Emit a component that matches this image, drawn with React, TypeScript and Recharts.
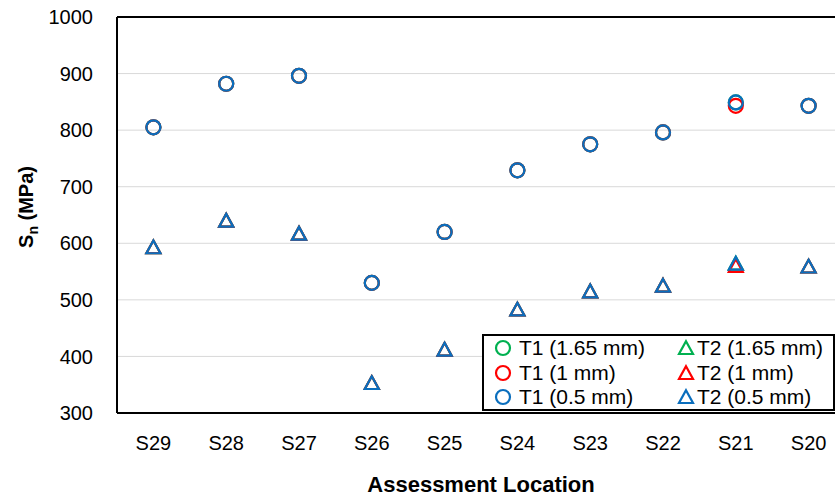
import React from 'react';
import {
  ComposedChart,
  Line,
  XAxis,
  YAxis,
  CartesianGrid,
  ReferenceLine,
  Legend,
  Label,
} from 'recharts';

// ---- data ----
const locations = ['S29', 'S28', 'S27', 'S26', 'S25', 'S24', 'S23', 'S22', 'S21', 'S20'];
const t1_165 = [805, 882, 896, 530, 620, 729, 775, 796, 849, 843];
const t2_165 = [593, 640, 617, 353, 412, 483, 515, 525, 564, 559];
const t1_1 = [805, 882, 896, 530, 620, 729, 775, 796, 843, 843];
const t2_1 = [593, 640, 617, 353, 412, 483, 515, 525, 560, 559];
const t1_05 = [805, 882, 896, 530, 620, 729, 775, 796, 849, 843];
const t2_05 = [593, 640, 617, 353, 412, 483, 515, 525, 564, 559];
const yTicks = [300, 400, 500, 600, 700, 800, 900, 1000];

const GREEN = '#00B050';
const RED = '#FF0000';
const BLUE = '#0A6EBD';

const seriesList = [
  { key: 't1_165', name: 'T1 (1.65 mm)', color: GREEN, shape: 'circle' },
  { key: 't2_165', name: 'T2 (1.65 mm)', color: GREEN, shape: 'triangle' },
  { key: 't1_1', name: 'T1 (1 mm)', color: RED, shape: 'circle' },
  { key: 't2_1', name: 'T2 (1 mm)', color: RED, shape: 'triangle' },
  { key: 't1_05', name: 'T1 (0.5 mm)', color: BLUE, shape: 'circle' },
  { key: 't2_05', name: 'T2 (0.5 mm)', color: BLUE, shape: 'triangle' },
];

const data = locations.map((loc, i) => ({
  loc,
  t1_165: t1_165[i],
  t2_165: t2_165[i],
  t1_1: t1_1[i],
  t2_1: t2_1[i],
  t1_05: t1_05[i],
  t2_05: t2_05[i],
}));

const FONT = '"Liberation Sans", Arial, sans-serif';

const markerEl = (shape: string, color: string, cx: number, cy: number, key?: any) =>
  shape === 'circle' ? (
    <circle key={key} cx={cx} cy={cy} r={7} fill="none" stroke={color} strokeWidth={2.2} />
  ) : (
    <path
      key={key}
      d={`M${cx},${cy - 6.8} L${cx + 7},${cy + 6} L${cx - 7},${cy + 6} Z`}
      fill="none"
      stroke={color}
      strokeWidth={2.2}
      strokeLinejoin="miter"
    />
  );

const makeDot = (shape: string, color: string) => (props: any) => {
  const { cx, cy, index } = props;
  if (cx == null || cy == null) return <g key={`e${index}`} />;
  return markerEl(shape, color, cx, cy, `d${index}`);
};

const rowCenters = [14, 39, 63];
const markerX = [21, 204];
const textX = [37, 215];

const renderLegend = () => (
  <div
    style={{
      position: 'relative',
      width: 353,
      height: 77,
      boxSizing: 'border-box',
      border: '2px solid #000',
      background: '#fff',
      fontFamily: FONT,
      fontSize: 21,
      color: '#000',
    }}
  >
    {seriesList.map((s, i) => {
      const col = i % 2;
      const row = Math.floor(i / 2);
      const cy = rowCenters[row];
      return (
        <React.Fragment key={s.key}>
          <svg
            width={18}
            height={18}
            style={{ position: 'absolute', left: markerX[col] - 2 - 9, top: cy - 2 - 9 }}
          >
            {markerEl(s.shape, s.color, 9, 9)}
          </svg>
          <div
            style={{
              position: 'absolute',
              left: textX[col] - 2,
              top: cy - 2 - 12,
              height: 24,
              lineHeight: '24px',
              whiteSpace: 'nowrap',
            }}
          >
            {s.name}
          </div>
        </React.Fragment>
      );
    })}
  </div>
);

const YLabel = (props: any) => {
  const x = 33;
  const y = 207;
  return (
    <text
      x={x}
      y={y}
      transform={`rotate(-90, ${x}, ${y})`}
      textAnchor="middle"
      fontFamily={FONT}
      fontWeight="bold"
      fontSize={20}
      fill="#000"
    >
      <tspan>S</tspan>
      <tspan fontSize={14} dy={5}>n</tspan>
      <tspan dy={-5}> (MPa)</tspan>
    </text>
  );
};

const XLabel = (props: any) => {
  const vb = props.viewBox || { x: 117, y: 413, width: 728, height: 83 };
  return (
    <text
      x={vb.x + vb.width / 2}
      y={vb.y + 79}
      textAnchor="middle"
      fontFamily={FONT}
      fontWeight="bold"
      fontSize={22}
      fill="#000"
    >
      Assessment Location
    </text>
  );
};

export default function App() {
  return (
    <div
      style={{
        position: 'absolute',
        left: 0,
        top: 0,
        width: 835,
        height: 496,
        overflow: 'hidden',
        background: '#fff',
        fontFamily: FONT,
      }}
    >
      <ComposedChart
        width={850}
        height={496}
        data={data}
        margin={{ top: 17, right: 5, bottom: 0, left: 0 }}
      >
        <CartesianGrid horizontal vertical={false} stroke="#D9D9D9" strokeWidth={1} />
        <XAxis
          dataKey="loc"
          type="category"
          scale="band"
          height={83}
          interval={0}
          tickLine={false}
          tickSize={0}
          tickMargin={23}
          axisLine={{ stroke: '#000', strokeWidth: 2 }}
          tick={{ fill: '#000', fontSize: 20, fontFamily: FONT }}
        >
          <Label content={<XLabel />} />
        </XAxis>
        <YAxis
          type="number"
          domain={[300, 1000]}
          ticks={yTicks}
          interval={0}
          allowDataOverflow
          width={117}
          tickLine={false}
          tickSize={0}
          tickMargin={24}
          axisLine={{ stroke: '#000', strokeWidth: 2 }}
          tick={{ fill: '#000', fontSize: 20, fontFamily: FONT }}
        >
          <Label content={<YLabel />} />
        </YAxis>
        <ReferenceLine y={1000} stroke="#000" strokeWidth={2} />
        {seriesList.map((s) => (
          <Line
            key={s.key}
            dataKey={s.key}
            name={s.name}
            stroke="none"
            dot={makeDot(s.shape, s.color)}
            activeDot={false}
            legendType={s.shape === 'circle' ? 'circle' : 'triangle'}
            isAnimationActive={false}
          />
        ))}
        <Legend
          layout="horizontal"
          verticalAlign="middle"
          align="center"
          content={renderLegend}
          wrapperStyle={{ left: 482, top: 334, width: 353, height: 77 }}
        />
      </ComposedChart>
    </div>
  );
}
